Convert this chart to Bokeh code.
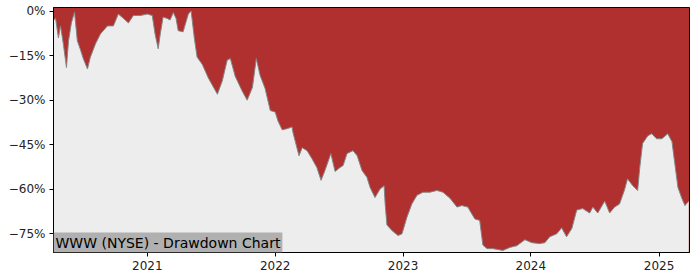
import pandas as pd
from bokeh.plotting import figure
from bokeh.models import Range1d, FixedTicker, DatetimeTickFormatter, Label
from bokeh.embed import file_html
from bokeh.resources import INLINE

# Drawdown data (percent)
dates = [
    "2020-04-08", "2020-04-14", "2020-04-22", "2020-04-28", "2020-05-06", "2020-05-15",
    "2020-05-21", "2020-05-29", "2020-06-07", "2020-06-15", "2020-06-24", "2020-07-02",
    "2020-07-14", "2020-07-22", "2020-08-06", "2020-08-20", "2020-09-09", "2020-09-26",
    "2020-10-10", "2020-10-25", "2020-11-08", "2020-11-22", "2020-12-12", "2021-01-01",
    "2021-01-15", "2021-01-23", "2021-02-01", "2021-02-07", "2021-02-15", "2021-02-27",
    "2021-03-07", "2021-03-16", "2021-03-24", "2021-03-30", "2021-04-13", "2021-04-28",
    "2021-05-06", "2021-05-15", "2021-05-23", "2021-06-07", "2021-06-24", "2021-07-20",
    "2021-08-03", "2021-08-17", "2021-08-26", "2021-09-09", "2021-09-29", "2021-10-13",
    "2021-10-28", "2021-11-08", "2021-11-19", "2021-12-03", "2021-12-18", "2022-01-01",
    "2022-01-09", "2022-01-21", "2022-02-04", "2022-02-18", "2022-02-21", "2022-03-04",
    "2022-03-10", "2022-03-19", "2022-04-02", "2022-04-16", "2022-04-30", "2022-05-12",
    "2022-05-23", "2022-06-09", "2022-06-21", "2022-07-05", "2022-07-14", "2022-07-25",
    "2022-08-11", "2022-08-23", "2022-09-06", "2022-09-20", "2022-09-29", "2022-10-13",
    "2022-10-27", "2022-11-08", "2022-11-11", "2022-11-16", "2022-12-01", "2022-12-18",
    "2022-12-29", "2023-01-12", "2023-01-26", "2023-02-10", "2023-02-27", "2023-03-19",
    "2023-04-08", "2023-04-25", "2023-05-15", "2023-06-04", "2023-06-18", "2023-07-05",
    "2023-07-25", "2023-08-08", "2023-08-17", "2023-08-29", "2023-09-15", "2023-10-13",
    "2023-11-02", "2023-11-22", "2023-12-15", "2024-01-04", "2024-01-26", "2024-02-10",
    "2024-02-24", "2024-03-15", "2024-03-29", "2024-04-12", "2024-04-27", "2024-05-11",
    "2024-05-28", "2024-06-17", "2024-06-26", "2024-07-10", "2024-07-30", "2024-08-13",
    "2024-08-27", "2024-09-10", "2024-09-24", "2024-10-03", "2024-10-18", "2024-11-01",
    "2024-11-07", "2024-11-15", "2024-11-30", "2024-12-11", "2024-12-25", "2025-01-09",
    "2025-01-26", "2025-02-07", "2025-02-15", "2025-02-24", "2025-03-07", "2025-03-16",
    "2025-03-27",
]
drawdown = [
    -3, -2.5, -9, -5, -11, -19,
    -10, -4, -0.3, -10, -13, -16,
    -19.5, -15.6, -11, -7.7, -5, -5,
    -1, -2.5, -4, -1.5, -1.5, -1,
    -1.5, -7.7, -12.7, -7.6, -2, -2.5,
    -3, -0.5, -2.5, -6.6, -7, -1,
    0, -9, -15.5, -18, -22.5, -28,
    -23.5, -16.5, -16, -22, -27, -30,
    -25.7, -16, -21.7, -26, -33.5, -34,
    -37, -40, -39.6, -39, -41, -46,
    -48.7, -46, -47, -49.7, -52.7, -57,
    -53.7, -48, -54, -52.7, -52, -48,
    -47, -48.7, -53.7, -56, -59.4, -62.8,
    -60, -58.8, -65, -72, -74, -75.6,
    -75, -69.5, -65, -62, -61, -61,
    -60.4, -61, -63, -66, -65.5, -66,
    -70, -70.5, -78.8, -80, -80, -80.6,
    -79.6, -79, -77, -78, -78.3, -78,
    -76, -75, -73, -76, -73.2, -67,
    -66.5, -68, -66, -68, -64, -68,
    -66, -65, -60.4, -56.5, -58.8, -60.4,
    -52.7, -44.6, -42, -41.3, -43, -43,
    -41.3, -44, -51.3, -59.4, -63, -65.5,
    -64,
]
y_ticks = [0, -15, -30, -45, -60, -75]
y_tick_labels = ["0%", "\u221215%", "\u221230%", "\u221245%", "\u221260%", "\u221275%"]
x_tick_years = [2021, 2022, 2023, 2024, 2025]
title_text = "WWW (NYSE) - Drawdown Chart"

x = pd.to_datetime(dates)
x_start = pd.Timestamp("2020-04-08")
x_end = pd.Timestamp("2025-03-29")
y_lo, y_hi = -81.3, 1.2

RED = "#b03030"
GRAY_BG = "#ededed"

p = figure(width=700, height=280, x_axis_type="datetime",
           output_backend="svg", toolbar_location=None,
           x_range=Range1d(x_start, x_end), y_range=Range1d(y_lo, y_hi),
           min_border_left=53, min_border_right=11, min_border_top=7, min_border_bottom=28)
p.background_fill_color = RED
p.border_fill_color = "white"
p.outline_line_color = "black"
p.outline_line_width = 1
p.grid.visible = False

p.varea(x=x, y1=[y_lo] * len(x), y2=drawdown, fill_color=GRAY_BG)
p.line(x=x, y=drawdown, line_color="#858585", line_width=1)

p.yaxis.ticker = FixedTicker(ticks=y_ticks)
p.yaxis.major_label_overrides = {t: l for t, l in zip(y_ticks, y_tick_labels)}
x_ticks = [pd.Timestamp(f"{yr}-01-01").value / 1e6 for yr in x_tick_years]
p.xaxis.ticker = FixedTicker(ticks=x_ticks)
p.xaxis.formatter = DatetimeTickFormatter(years="%Y", months="%Y", days="%Y")

for ax in (p.xaxis, p.yaxis):
    ax.axis_line_color = "black"
    ax.major_tick_line_color = "black"
    ax.major_tick_out = 4
    ax.major_tick_in = 0
    ax.minor_tick_line_color = None
    ax.major_label_text_font = "DejaVu Sans"
    ax.major_label_text_font_size = "12px"
    ax.major_label_text_color = "#222222"
p.yaxis.major_label_standoff = 4
p.xaxis.major_label_standoff = 4

lbl = Label(x=x_start, y=y_lo, text=title_text, x_offset=0, y_offset=0,
            text_font="DejaVu Sans", text_font_size="14px", text_color="#000000",
            text_align="left", text_baseline="bottom",
            background_fill_color="#b0b0b0", background_fill_alpha=1.0,
            padding=2)
p.add_layout(lbl)

open("out.html", "w").write(file_html(p, INLINE))
